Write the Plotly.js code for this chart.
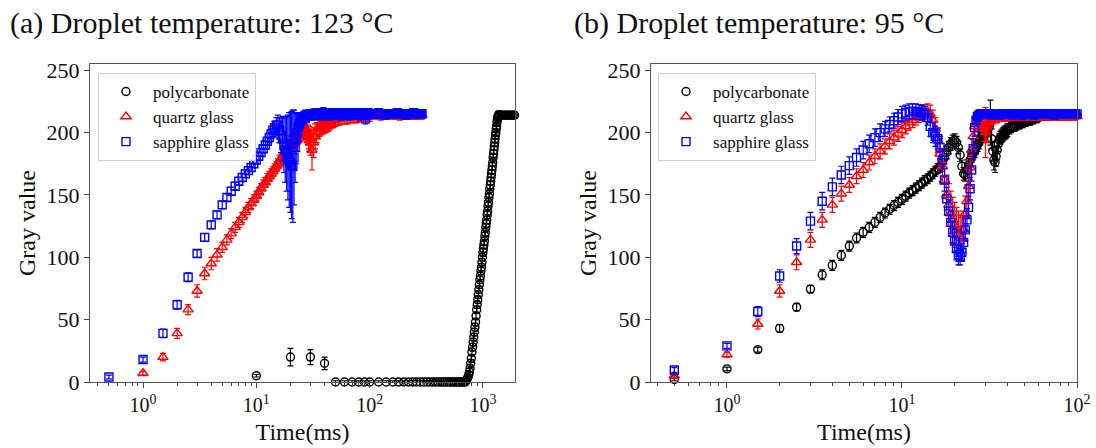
<!DOCTYPE html>
<html><head><meta charset="utf-8">
<script src="https://cdn.plot.ly/plotly-3.0.1.min.js"></script>
<style>html,body{margin:0;padding:0;background:#fff;}#chart{width:1096px;height:448px;}</style>
</head><body><div id="chart"></div>
<script>
// ---------- (a) Droplet temperature 123 °C ----------
const LS_t = [
0.5,1,1.5,2,2.5,3,3.5,4,4.5,5,
5.5,6,6.5,7,7.5,8,8.5,9,9.5,10,
10.5,11,11.5,12,12.5,13,13.5,14,14.5,15,
15.5,16,16.5,17,17.5,18,18.5,19,19.5,20,
20.5,21,21.5,22,22.5,23,23.5,24,24.5,25,
25.5,26,26.5,27,27.5,28,28.5,29,29.5,30,
31,32,33,34,35,36,37,38,39,40,
41,42,43,44,45,46,47,48,49,50,
52,54,56,58,60,62,64,66,68,70,
72,74,76,78,80,82,84,86,88,90,
92,94,96,98,100,
105,110,115,120,125,130,135,140,145,150,
155,160,165,170,175,180,185,190,195,200,
205,210,215,220,225,230,235,240,245,250,
255,260,265,270,275,280,285,290];
const LS_v = [
4,18,39,62,84,103,116,126,134,142,
148,153,157,161,164,167,169.5,172,175,178,
181,184,187,190,193,196,199,202,204,206,
206,202,198,195,190,186,183,180,178,176,
174,173,180,188,195,200,204,207,209,210,
211,212,212,213,213,213,214,214,214,214,
214,215,215,214,215,215,214,215,216,215,
215,214,215,215,215,214,215,215,215,215,
215,215,214,215,215,215,215,214,215,215,
215,215,215,215,215,214,215,215,215,215,
211,215,215,215,215,
215,215,215,216,215,215,214,215,215,215,
215,215,215,215,216,215,215,215,215,215,
215,214,215,215,215,215,215,215,216,215,
215,215,215,215,215,215,215,215];
const LS_e = [
1.5,2,3.5,3.5,3.5,3,3,3,3,3,
3,3,3,3,3,3,3,3,3,3,
3,3,3,3,3,4,4,5,5,6,
8,10,14,18,22,26,30,34,38,40,
43,45,38,28,20,15,11,9,7,6,
5,5,5,5,4,4,4,4,4,4,
4,4,4,4,4,4,4,4,4,4,
4,4,4,4,4,4,4,4,4,4,
4,4,4,4,4,4,4,4,4,4,
4,4,4,4,4,4,4,4,4,4,
4,4,4,4,4,
3,3,3,3,3,3,3,3,3,3,
3,3,3,3,3,3,3,3,3,3,
3,3,3,3,3,3,3,3,3,3,
3,3,3,3,3,3,3,3];

const LQ_t = [
1,1.5,2,2.5,3,3.5,4,4.5,5,5.5,
6,6.5,7,7.5,8,8.5,9,9.5,10,10.5,
11,11.5,12,12.5,13,13.5,14,14.5,15,15.5,
16,16.5,17,17.5,18,18.5,19,19.5,20,20.5,
21,21.5,22,22.5,23,23.5,24,24.5,25,25.5,
26,26.5,27,27.5,28,28.5,29,29.5,30,
31,32,33,34,35,36,37,38,39,40,
41,42,43,44,45,46,47,48,49,50,
52,54,56,58,60,62,64,66,68,70,
72,74,76,78,80,82,84,86,88,90,
92,94,96,98,100,
105,110,115,120,125,130,135,140,145,150,
155,160,165,170,175,180,185,190,195,200,
205,210,215,220,225,230,235,240,245,250,
255,260,265,270,275,280,285,290];
const LQ_v = [
7,20,39,58,73,87,95,102,108,114,
119,124,128,132,136,140,143,146,149,152,
155,158,160,163,165,167,169,171,173,175,
177,179,181,183,184,186,188,189,191,192,
193,194,195,196,197,198,199,200,201,202,
202,203,203,202,200,198,196,194,192,
186,192,197,200,203,204,205,206,206,207,
207,208,208,209,209,210,210,210,211,211,
211,211,212,212,212,212,212,213,213,213,
213,213,213,213,214,214,214,214,214,214,
214,214,214,214,214,
214,214,214,214,213,214,214,214,214,214,
214,214,214,214,214,214,213,214,214,214,
214,214,214,214,214,214,214,214,214,214,
214,214,214,214,214,214,214,214];
const LQ_e = [
1.5,3,4,4,5,5,5,5,4,4,
4,4,4,4,4,4,4,4,4,4,
4,4,4,4,4,4,4,4,4,4,
5,5,5,5,5,6,6,6,6,6,
6,6,6,7,7,7,7,7,7,7,
7,7,7,7,8,8,9,9,10,
16,12,10,8,8,7,7,7,7,7,
7,7,7,7,6,6,6,6,6,6,
5,5,5,5,5,5,5,5,5,5,
5,5,5,5,5,5,5,5,5,5,
5,5,5,5,5,
3,3,3,3,3,3,3,3,3,3,
3,3,3,3,3,3,3,3,3,3,
3,3,3,3,3,3,3,3,3,3,
3,3,3,3,3,3,3,3];

const LP_t = [
10,20,30,40,50,60,70,80,90,100,
120,140,160,180,200,220,240,260,280,300,
320,340,360,380,400,420,440,460,480,500,
520,540,560,580,600,620,640,660,680,700,
710,720,730,740,750,760,770,780,790,800,
810,820,830,840,850,860,870,880,890,900,
910,920,930,940,950,960,970,980,990,1000,
1010,1020,1030,1040,1050,1060,1070,1080,1090,1100,
1110,1120,1130,1140,1150,1160,1170,1180,1190,1200,
1210,1220,1230,1240,1250,1260,1270,1280,1290,1300,
1310,1320,1330,1340,1350,1360,1370,1380,1390,1400,
1450,1500,1550,1600,1650,1700,1750,1800,1850,1900];
const LP_v = [
5,20,20,15,0,0,0,0,0,0,
0,0,0,0,0,0,0,0,0,0,
0,0,0,0,0,0,0,0,0,0,
0,0,0,0,0,0,0,0,0,0,
1,2,3,4,6,8,11,15,19,24,
28,32,36,40,44,48,53,58,62,66,
70,74,78,82,85,89,92,96,100,104,
107,110,113,117,120,124,127,130,134,137,
141,144,148,151,155,158,161,164,167,170,
173,176,180,183,186,189,192,195,198,200,
203,205,208,210,212,213,214,214,214,214,
214,214,214,214,214,214,214,214,214,214];
const LP_e = [
1,7,6,5,1,1,1,1,1,1,
1,1,1,1,1,1,1,1,1,1,
1,1,1,1,1,1,1,1,1,1,
1,1,1,1,1,1,1,1,1,1,
1,2,2,2,2,3,3,3,3,3,
3,3,3,3,3,3,3,3,3,3,
3,3,3,3,3,3,3,3,3,3,
3,3,3,3,3,3,3,3,3,3,
3,3,3,3,3,3,3,3,3,3,
3,3,3,3,3,3,3,3,3,3,
3,3,3,3,3,3,3,3,3,3,
2,2,2,2,2,2,2,2,2,2];

// ---------- (b) Droplet temperature 95 °C ----------
const RT = [
0.5,1,1.5,2,2.5,3,3.5,4,4.5,5,
5.5,6,6.5,7,7.5,8,8.5,9,9.5,10,
10.5,11,11.5,12,12.5,13,13.5,14,14.5,15,
15.5,16,16.5,17,17.5,18,18.5,19,19.5,20,
20.5,21,21.5,22,22.5,23,23.5,24,24.5,25,
25.5,26,26.5,27,27.5,28,28.5,29,29.5,30,
30.5,31,31.5,32,32.5,33,33.5,34,34.5,35,
35.5,36,36.5,37,37.5,38,38.5,39,39.5,40,
41,42,43,44,45,46,47,48,49,50,
51,52,53,54,55,56,57,58,59,60,
62,64,66,68,70,72,74,76,78,80,
82,84,86,88,90,92,94,96,98,100];
const RS_v = [
9.6,29,56.5,85,109,129,145,156.5,166,173.5,
180,186,191,196,200,203,206.5,209.5,212.5,215,
216,217,217,217,216.5,216,215,212,205,200,
197,195,188,178,162,147,137,128,120,113,
107,102,100,104,112,122,130,140,155,170,
187,204,210,213,214,215,215,215,215,215,
215,215,215,215,214,214,214,214,214,214,
214,214,215,215,215,215,215,215,215,215,
215,215,214,215,215,215,215,215,214,215,
215,215,215,215,215,215,214,215,215,215,
215,215,215,215,215,215,214,215,215,215,
215,215,215,215,215,215,215,215,215,215];
const RS_e = [
2,2,4,5,6,7,7,7,7,7,
7,7,7,7,7,6,6,6,6,6,
6,6,6,6,6,6,6,6,8,8,
8,8,9,9,9,9,9,9,9,9,
9,8,6,7,8,9,9,9,9,9,
8,7,5,4,3,3,3,3,3,3,
3,3,3,3,3,3,3,3,3,3,
3,3,3,3,3,3,3,3,3,3,
3,3,3,3,3,3,3,3,3,3,
3,3,3,3,3,3,3,3,3,3,
3,3,3,3,3,3,3,3,3,3,
3,3,3,3,3,3,3,3,3,3];
const RQ_v = [
5,22,46.5,73,96,114,130,142,151,158,
165,170,176,181,185,189,193,196,199,202,
205,208,210,212,214,215.5,216.5,217,215,210,
203,194,183,173,162,150,142,135,130,126,
122,119,116,115,122,135,145,157,172,186,
197,205,208,209,209,208,207,205,203,200,
204,207,209,211,212,212,213,213,213,213,
213,213,213,213,213,213,213,213,213,213,
213,213,213,213,214,213,213,213,213,213,
213,214,213,213,213,213,213,214,213,213,
213,213,214,213,213,213,214,213,213,213,
213,214,213,213,213,213,213,214,213,213];
const RQ_e = [
2,2,4,5,6,6,6,6,6,6,
6,6,6,6,6,6,6,6,6,6,
6,6,6,6,6,6,6,6,7,8,
9,10,12,14,15,16,17,18,18,18,
18,18,18,17,15,14,13,12,10,9,
8,7,6,6,6,6,6,6,10,20,
12,8,5,5,5,5,5,5,5,5,
4,4,4,4,4,4,4,4,4,4,
3,3,3,3,3,3,3,3,3,3,
3,3,3,3,3,3,3,3,3,3,
3,3,3,3,3,3,3,3,3,3,
3,3,3,3,3,3,3,3,3,3];
const RP_v = [
2,10.5,26,43,60,74.5,86,93.5,101.5,109,
115.5,120,124,128,132,135.5,138.5,141.5,144,146.5,
149,151.5,153.5,155.5,157.5,159.5,161.5,163,165,167,
169,171,173,176,180,184,188,191,193,194,
192,188,182,173,167,166,170,174,178,181,
183,185,188,190,192,195,197,198,200,201,
202,203,205,208,195,185,178,176,181,186,
191,194,196,197,198,199,200,200,201,202,
203,204,205,205,206,207,207,208,208,209,
209,210,210,210,211,211,212,212,212,213,
213,213,213,213,214,214,214,214,214,214,
214,214,214,214,214,214,214,214,214,214];
const RP_e = [
1,1.5,2,3,3,3,4,4,4,4,
4,4,4,4,4,4,4,4,4,4,
4,4,4,4,4,4,4,4,4,4,
4,4,5,5,5,5,5,5,5,5,
5,5,5,5,5,5,5,5,5,5,
5,5,5,5,5,5,5,5,5,5,
5,5,6,18,8,8,8,8,8,8,
6,5,5,5,5,5,5,5,5,5,
4,4,4,4,4,4,4,4,4,4,
4,4,4,4,4,4,4,4,4,4,
3,3,3,3,3,3,3,3,3,3,
3,3,3,3,3,3,3,3,3,3];

const NAMES = ['polycarbonate','quartz glass','sapphire glass'];
const COLORS = ['#000000','#ff0000','#0000ff'];
const SYMBOLS = ['circle-open','triangle-up-open','square-open'];
const SIZES = [8,9,8];
const XTICKS = [1,10,100,1000];
const XTEXT = ['10<sup>0</sup>','10<sup>1</sup>','10<sup>2</sup>','10<sup>3</sup>'];
const YTICKS = [0,50,100,150,200,250];
const TITLES = ['(a) Droplet temperature: 123 °C','(b) Droplet temperature: 95 °C'];

const FONT = 'Liberation Serif, Times New Roman, serif';

function tr(i,x,y,e,xa,ya,leg){
  return {type:'scatter',mode:'markers',x:x,y:y,name:NAMES[i],xaxis:xa,yaxis:ya,legend:leg,
    cliponaxis:false,showlegend:true,
    marker:{symbol:SYMBOLS[i],size:SIZES[i],color:COLORS[i],line:{color:COLORS[i],width:1.4}},
    error_y:{type:'data',array:e,visible:true,color:COLORS[i],thickness:1.2,width:3}};
}
const data = [
  tr(0,LP_t,LP_v,LP_e,'x','y','legend'),
  tr(1,LQ_t,LQ_v,LQ_e,'x','y','legend'),
  tr(2,LS_t,LS_v,LS_e,'x','y','legend'),
  tr(0,RT,RP_v,RP_e,'x2','y2','legend2'),
  tr(1,RT,RQ_v,RQ_e,'x2','y2','legend2'),
  tr(2,RT,RS_v,RS_e,'x2','y2','legend2')
];

const minorL = [0.4,0.5,0.6,0.7,0.8,0.9,2,3,4,5,6,7,8,9,20,30,40,50,60,70,80,90,200,300,400,500,600,700,800,900];
const minorR = [0.4,0.5,0.6,0.7,0.8,0.9,2,3,4,5,6,7,8,9,20,30,40,50,60,70,80,90];

function xax(dom,rng,minor,anchor){
  return {domain:dom,type:'log',range:rng,anchor:anchor,tickmode:'array',tickvals:XTICKS,ticktext:XTEXT,
    ticks:'outside',ticklen:5,tickwidth:1,tickcolor:'#444',showline:true,linecolor:'#555',linewidth:1,
    mirror:true,showgrid:false,zeroline:false,
    minor:{tickmode:'array',tickvals:minor,ticks:'outside',ticklen:3,tickwidth:1,tickcolor:'#444',showgrid:false},
    tickfont:{family:FONT,size:20,color:'#111'},
    title:{text:'Time(ms)',font:{family:FONT,size:24,color:'#111'},standoff:8}};
}
function yax(anchor){
  return {domain:[0,1],range:[0,255],anchor:anchor,tickmode:'array',tickvals:YTICKS,
    ticks:'outside',ticklen:5,tickwidth:1,tickcolor:'#444',showline:true,linecolor:'#555',linewidth:1,
    mirror:true,showgrid:false,zeroline:false,
    tickfont:{family:FONT,size:22,color:'#111'},
    title:{text:'Gray value',font:{family:FONT,size:24,color:'#111'},standoff:4}};
}
function leg(x){
  return {x:x,y:0.972,xanchor:'left',yanchor:'top',bgcolor:'rgba(255,255,255,0.9)',bordercolor:'#d0d0d0',
    borderwidth:1,itemwidth:44,font:{family:FONT,size:17,color:'#111'},itemclick:false,itemdoubleclick:false};
}
const layout = {
  width:1096,height:448,margin:{l:90,r:19,t:64,b:66},
  paper_bgcolor:'#ffffff',plot_bgcolor:'#ffffff',
  font:{family:FONT,color:'#111'},
  hovermode:false,
  xaxis:xax([0,0.4306],[-0.468,3.283],minorL,'y'),
  yaxis:yax('x'),
  xaxis2:xax([0.5684,1],[-0.434,2],minorR,'y2'),
  yaxis2:yax('x2'),
  legend:leg(0.0081),
  legend2:leg(0.5755),
  annotations:[
    {text:TITLES[0],xref:'paper',yref:'paper',x:-0.0831,y:1.1274,xanchor:'left',yanchor:'middle',showarrow:false,
     font:{family:FONT,size:30,color:'#111'}},
    {text:TITLES[1],xref:'paper',yref:'paper',x:0.4883,y:1.1274,xanchor:'left',yanchor:'middle',showarrow:false,
     font:{family:FONT,size:30,color:'#111'}}
  ]
};
Plotly.newPlot('chart',data,layout,{displayModeBar:false,staticPlot:true});
</script></body></html>
